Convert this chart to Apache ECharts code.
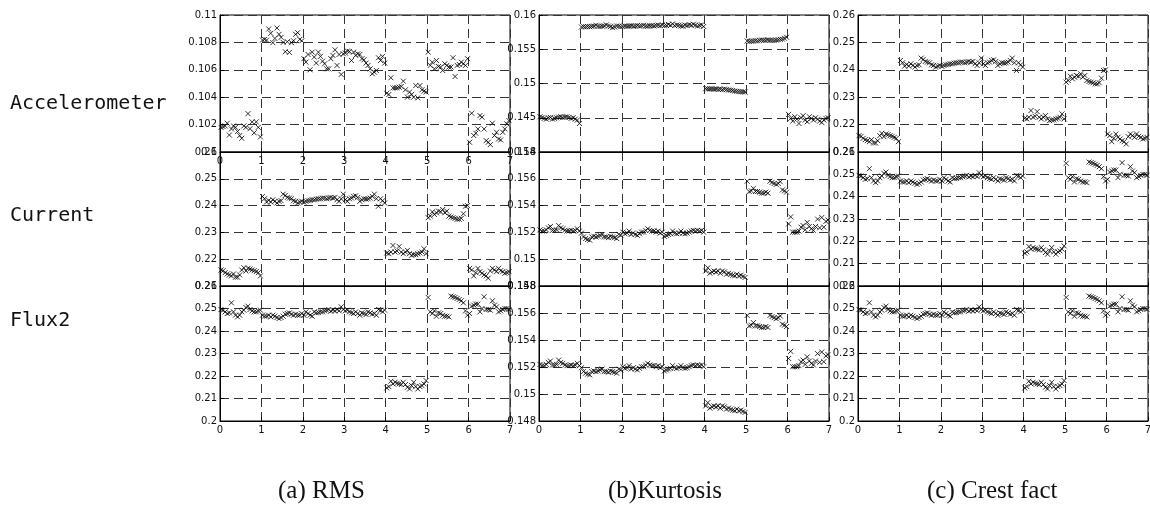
<!DOCTYPE html>
<html>
<head>
<meta charset="utf-8">
<script src="https://cdn.jsdelivr.net/npm/echarts@6/dist/echarts.min.js"></script>
<style>
html,body{margin:0;padding:0;background:#fff;}
#chart{width:1150px;height:507px;}
</style>
</head>
<body>
<div id="chart"></div>
<script>
// ---------------- DATA ----------------
const xTicks = [0, 1, 2, 3, 4, 5, 6, 7];
const rowLabels = ['Accelerometer', 'Current', 'Flux2'];
const captions = ['(a) RMS', '(b)Kurtosis', '(c) Crest fact'];
const samplesPerUnit = 20;

const accelRMS = [
0.1018,0.10185,0.1019,0.1021,0.10124,0.10168,0.1019,0.1018,0.1015,0.1012,0.101,0.1019,0.1018,0.1028,0.1017,0.1022,0.1014,0.1022,0.1018,0.1011,
0.10817,0.10822,0.10817,0.10898,0.10866,0.10798,0.10829,0.10905,0.10859,0.10837,0.108,0.10732,0.10805,0.10727,0.10798,0.10812,0.10859,0.10871,0.10822,0.10812,
0.10681,0.10656,0.10712,0.106,0.10729,0.10693,0.10649,0.10729,0.10698,0.10663,0.10644,0.10607,0.10607,0.10681,0.10705,0.10746,0.10632,0.10712,0.10566,0.10717,
0.10722,0.10737,0.10734,0.10668,0.10729,0.10705,0.10717,0.10712,0.10681,0.10673,0.10649,0.10632,0.10607,0.10571,0.10583,0.10595,0.10688,0.10668,0.10698,0.10649,
0.10429,0.1042,0.10542,0.10468,0.10468,0.10468,0.10473,0.10478,0.10517,0.10454,0.104,0.10437,0.1042,0.104,0.10485,0.10395,0.10485,0.10454,0.10444,0.10437,
0.10729,0.10632,0.10656,0.10607,0.10668,0.10624,0.1062,0.10595,0.10644,0.10632,0.1062,0.1062,0.10688,0.10551,0.10632,0.10639,0.10656,0.10644,0.10632,0.10681,
0.10071,0.10283,0.1012,0.10137,0.10168,0.10266,0.10254,0.10168,0.10083,0.10071,0.10054,0.1021,0.1012,0.10144,0.10095,0.10088,0.10144,0.10168,0.10205,0.10229
];

const currentRMS = [
0.21597,0.21572,0.21499,0.2145,0.21414,0.21377,0.2145,0.21328,0.21328,0.21414,0.21597,0.21682,0.2156,0.21658,0.21633,0.21597,0.21572,0.21536,0.21499,0.21377,
0.24342,0.24256,0.24134,0.24195,0.24134,0.2422,0.24159,0.24098,0.24159,0.24183,0.24427,0.24378,0.24305,0.24281,0.24256,0.24183,0.24159,0.24098,0.24134,0.24159,
0.24122,0.24159,0.24183,0.24195,0.2422,0.2422,0.24244,0.24256,0.24256,0.24281,0.24281,0.24256,0.24281,0.24305,0.24281,0.24305,0.2422,0.24159,0.24256,0.24427,
0.2422,0.24159,0.24256,0.24281,0.24342,0.24366,0.24305,0.24159,0.2422,0.24256,0.24244,0.24256,0.24281,0.24342,0.24427,0.24256,0.23976,0.24256,0.24183,0.24098,
0.22231,0.22207,0.22268,0.22512,0.22268,0.22304,0.22476,0.22268,0.22207,0.22268,0.22329,0.22207,0.22146,0.2217,0.2217,0.22207,0.22231,0.22268,0.2239,0.22207,
0.23549,0.2361,0.23768,0.23671,0.23732,0.23793,0.23768,0.23854,0.23732,0.23793,0.2361,0.23573,0.23549,0.23524,0.23488,0.23488,0.23524,0.23695,0.23976,0.24,
0.21658,0.21597,0.21377,0.21499,0.21658,0.21536,0.21475,0.21414,0.21377,0.21292,0.2156,0.21658,0.21597,0.21536,0.21658,0.21572,0.21536,0.21475,0.21499,0.21536
];

const fluxRMS = [
0.24955,0.24925,0.24851,0.24776,0.24806,0.25253,0.24851,0.24702,0.24627,0.24702,0.24851,0.24925,0.25045,0.25104,0.24955,0.24896,0.24851,0.24851,0.24896,0.24925,
0.24702,0.24657,0.24657,0.24702,0.24627,0.24702,0.24657,0.24598,0.24553,0.24598,0.24657,0.24747,0.24776,0.24806,0.24747,0.24702,0.24747,0.24702,0.24702,0.24776,
0.24702,0.24851,0.24776,0.24702,0.24657,0.24851,0.24806,0.24821,0.24851,0.24851,0.24896,0.24925,0.24955,0.24881,0.24925,0.24896,0.24955,0.24896,0.25075,0.24955,
0.24896,0.24925,0.24851,0.24806,0.24776,0.24851,0.24776,0.24702,0.24806,0.24776,0.24732,0.24851,0.24806,0.24747,0.24776,0.24702,0.24955,0.24925,0.24851,0.24925,
0.21469,0.21528,0.21767,0.21648,0.21722,0.21677,0.21648,0.21618,0.21722,0.21618,0.21499,0.21424,0.21573,0.21722,0.21528,0.21424,0.21528,0.21573,0.21648,0.21797,
0.25492,0.24851,0.24776,0.24896,0.24657,0.24806,0.24776,0.24702,0.24657,0.24657,0.24627,0.25551,0.25522,0.25492,0.25447,0.25402,0.25343,0.25253,0.24896,0.24702,
0.24776,0.25104,0.25149,0.25194,0.25194,0.24851,0.25,0.25522,0.24955,0.24955,0.24925,0.25343,0.25149,0.25075,0.24851,0.24896,0.24955,0.25,0.25,0.24955
];

const accelKurt = [
0.14515,0.14505,0.1449,0.1448,0.145,0.14505,0.1448,0.1449,0.145,0.1451,0.14515,0.14505,0.1451,0.14515,0.14505,0.1449,0.145,0.1448,0.14466,0.14416,
0.15825,0.1583,0.15828,0.15832,0.1583,0.15835,0.15838,0.1585,0.15835,0.15832,0.15838,0.15842,0.15855,0.1584,0.1583,0.15815,0.15825,0.1584,0.15838,0.1583,
0.15832,0.15838,0.15836,0.1584,0.15842,0.15835,0.1584,0.15845,0.15838,0.15842,0.1585,0.15838,0.15835,0.15842,0.15845,0.1584,0.15848,0.15852,0.15845,0.15855,
0.15845,0.15848,0.15862,0.1585,0.1587,0.15845,0.15855,0.1585,0.1584,0.15835,0.15852,0.15848,0.15858,0.1585,0.15865,0.15852,0.15838,0.15848,0.15855,0.15832,
0.14925,0.14922,0.1492,0.14922,0.14918,0.1492,0.14915,0.14918,0.14912,0.14918,0.1491,0.14905,0.14902,0.14898,0.1489,0.14885,0.14882,0.1488,0.14878,0.14875,
0.1562,0.15615,0.15618,0.1562,0.15625,0.15622,0.1563,0.15635,0.15632,0.1563,0.15638,0.15632,0.1563,0.15628,0.15635,0.1564,0.15645,0.15648,0.1566,0.15675,
0.14549,0.1449,0.14451,0.14515,0.1448,0.14416,0.145,0.1453,0.14466,0.14441,0.14515,0.1449,0.14466,0.145,0.1448,0.14451,0.14431,0.14466,0.1449,0.145
];

const currentKurt = [
0.15219,0.1521,0.1521,0.15219,0.15234,0.15244,0.15215,0.15215,0.15219,0.15251,0.15234,0.15227,0.15215,0.1521,0.1521,0.15215,0.1521,0.15215,0.15227,0.1521,
0.15195,0.15166,0.15154,0.15147,0.15142,0.15166,0.15171,0.15166,0.15171,0.15178,0.15185,0.15166,0.15166,0.15161,0.15171,0.15166,0.15161,0.15154,0.15185,0.15178,
0.15202,0.1519,0.15195,0.1521,0.15185,0.15195,0.15185,0.15178,0.1519,0.15202,0.15202,0.15215,0.15227,0.15215,0.1521,0.1521,0.15202,0.1521,0.15195,0.15202,
0.15171,0.15178,0.15185,0.1519,0.1521,0.15195,0.1519,0.15195,0.1521,0.15195,0.1519,0.15195,0.15202,0.1521,0.15215,0.1521,0.15215,0.1521,0.15215,0.15202,
0.14912,0.14936,0.14895,0.14905,0.14912,0.14905,0.14912,0.14895,0.14912,0.14905,0.14888,0.14895,0.14888,0.1488,0.14876,0.14888,0.14876,0.1488,0.14871,0.14864,
0.15582,0.15505,0.1551,0.15529,0.15505,0.15505,0.155,0.15493,0.15493,0.155,0.15493,0.15582,0.15573,0.15565,0.15558,0.15565,0.15578,0.15517,0.1551,0.155,
0.15263,0.15316,0.15202,0.15202,0.15202,0.1521,0.15239,0.15251,0.15219,0.15275,0.15244,0.15227,0.15215,0.15244,0.15299,0.15234,0.15311,0.15239,0.15282,0.15292
];

// y-axis ranges [min, max, interval] per panel (row-major: a1,b1,c1,a2,b2,c2,a3,b3,c3)
const yRanges = [
  [0.10, 0.11, 0.002], [0.14, 0.16, 0.005], [0.21, 0.26, 0.01],
  [0.21, 0.26, 0.01],  [0.148, 0.158, 0.002], [0.20, 0.26, 0.01],
  [0.20, 0.26, 0.01],  [0.148, 0.158, 0.002], [0.20, 0.26, 0.01]
];
const panelData = [
  accelRMS, accelKurt, currentRMS,
  currentRMS, currentKurt, fluxRMS,
  fluxRMS, currentKurt, fluxRMS
];

// ---------------- LAYOUT ----------------
const colLeft = [220, 539, 858];
const colWidth = 290;
const rowTop = [15, 152, 286];
const rowHeight = [137, 134, 135];
const showXLabels = [true, false, false, false, false, false, true, true, true];

const tickFont = 'DejaVu Sans';
const grids = [], xAxes = [], yAxes = [], series = [];
for (let r = 0; r < 3; r++) {
  for (let c = 0; c < 3; c++) {
    const i = r * 3 + c;
    grids.push({
      left: colLeft[c], top: rowTop[r], width: colWidth, height: rowHeight[r],
      containLabel: false, outerBoundsMode: 'none',
      show: true, borderColor: '#000', borderWidth: 1, backgroundColor: 'transparent'
    });
    xAxes.push({
      type: 'value', gridIndex: i, min: xTicks[0], max: xTicks[xTicks.length - 1], interval: 1,
      axisLine: { show: true, onZero: false, lineStyle: { color: '#000', width: 1 } },
      axisTick: { show: true, inside: true, length: 4, lineStyle: { color: '#000' } },
      axisLabel: { show: showXLabels[i], fontSize: 10, margin: 4, color: '#111', fontFamily: tickFont },
      splitLine: { show: true, lineStyle: { type: [9, 5], color: '#333', width: 1 } }
    });
    const yr = yRanges[i];
    yAxes.push({
      type: 'value', gridIndex: i, min: yr[0], max: yr[1], interval: yr[2],
      axisLine: { show: true, onZero: false, lineStyle: { color: '#000', width: 1 } },
      axisTick: { show: true, inside: true, length: 4, lineStyle: { color: '#000' } },
      axisLabel: { show: true, fontSize: 10, margin: 3, color: '#111', fontFamily: tickFont },
      splitLine: { show: true, lineStyle: { type: [9, 5], color: '#333', width: 1 } }
    });
    const vals = panelData[i];
    series.push({
      type: 'scatter', xAxisIndex: i, yAxisIndex: i,
      symbol: 'path://M0,0L10,10M10,0L0,10', symbolSize: 5,
      itemStyle: { color: 'rgba(0,0,0,0)', borderColor: '#000', borderWidth: 1 },
      emphasis: { disabled: true }, silent: true, animation: false,
      data: vals.map((v, k) => [(k + 0.5) / samplesPerUnit, v])
    });
  }
}

const titles = [];
const rowLabelTops = [94, 206, 311];
rowLabels.forEach((t, r) => titles.push({
  text: t, left: 10, top: rowLabelTops[r], padding: 0,
  textStyle: { fontFamily: 'DejaVu Sans Mono', fontSize: 20, fontWeight: 'normal', color: '#111' }
}));
const captionLefts = [278, 608, 927];
captions.forEach((t, c) => titles.push({
  text: t, left: captionLefts[c], top: 479, padding: 0,
  textStyle: { fontFamily: 'Liberation Serif', fontSize: 25, fontWeight: 'normal', color: '#111' }
}));

const chart = echarts.init(document.getElementById('chart'), null, { renderer: 'canvas' });
chart.setOption({
  backgroundColor: '#fff',
  animation: false,
  title: titles,
  grid: grids,
  xAxis: xAxes,
  yAxis: yAxes,
  series: series
});
</script>
</body>
</html>
